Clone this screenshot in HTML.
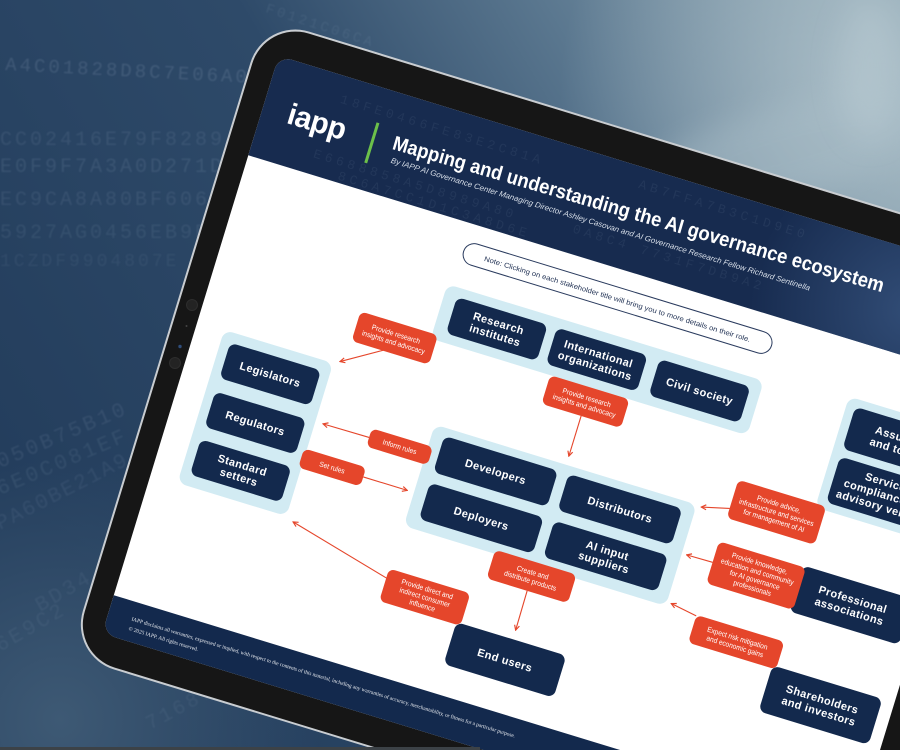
<!DOCTYPE html>
<html><head><meta charset="utf-8"><style>
html,body{margin:0;padding:0;width:900px;height:750px;overflow:hidden;}
svg{display:block;}
.bx{font-family:"Liberation Sans",sans-serif;font-weight:bold;font-size:11px;fill:#fff;text-anchor:middle;letter-spacing:.4px;}
.lb{font-family:"Liberation Sans",sans-serif;font-size:7.4px;fill:#fff;text-anchor:middle;}
.hx{font-family:"Liberation Mono","DejaVu Sans Mono",monospace;fill:#b3c8da;}
</style></head><body>
<svg width="900" height="750" viewBox="0 0 900 750" xmlns="http://www.w3.org/2000/svg">
<defs>
<linearGradient id="bg" x1="0" y1="0.6" x2="1" y2="0.1">
<stop offset="0" stop-color="#243e5d"/>
<stop offset="0.45" stop-color="#2e4a69"/>
<stop offset="0.72" stop-color="#5a778f"/>
<stop offset="1" stop-color="#8ea6b3"/>
</linearGradient>
<radialGradient id="hl" cx="860" cy="90" r="300" gradientUnits="userSpaceOnUse">
<stop offset="0" stop-color="#b4c6ce" stop-opacity=".75"/>
<stop offset="1" stop-color="#b4c6ce" stop-opacity="0"/>
</radialGradient>
<radialGradient id="bl" cx="60" cy="720" r="260" gradientUnits="userSpaceOnUse">
<stop offset="0" stop-color="#44607a" stop-opacity=".8"/>
<stop offset="1" stop-color="#44607a" stop-opacity="0"/>
</radialGradient>
<radialGradient id="hh" cx="910" cy="310" r="160" gradientUnits="userSpaceOnUse">
<stop offset="0" stop-color="#34507a" stop-opacity=".9"/>
<stop offset="1" stop-color="#34507a" stop-opacity="0"/>
</radialGradient>
<filter id="blur" x="-50%" y="-50%" width="200%" height="200%"><feGaussianBlur stdDeviation="14"/></filter>
<filter id="sb" x="-10%" y="-50%" width="120%" height="200%"><feGaussianBlur stdDeviation="0.8"/></filter>
<marker id="ah" viewBox="0 0 8 8" refX="7" refY="4" markerWidth="6" markerHeight="6" orient="auto">
<path d="M1,1 L7,4 L1,7" fill="none" stroke="#e5462b" stroke-width="1.4"/>
</marker>
</defs>

<!-- background -->
<rect width="900" height="750" fill="url(#bg)"/>
<rect width="900" height="750" fill="url(#hl)"/>
<rect width="900" height="750" fill="url(#bl)"/>
<ellipse cx="790" cy="150" rx="160" ry="45" transform="rotate(-15 790 150)" fill="#a9bdc7" opacity=".45" filter="url(#blur)"/>
<ellipse cx="870" cy="70" rx="30" ry="70" fill="#b7c9d1" opacity=".5" filter="url(#blur)"/>

<!-- background hex texture -->
<g class="hx" filter="url(#sb)">
<text x="5" y="70" font-size="19" opacity=".16" letter-spacing="3" transform="rotate(3 5 70)">A4C01828D8C7E06A00</text>
<text x="0" y="145" font-size="20" opacity=".11" letter-spacing="3">CC02416E79F8289A8</text>
<text x="0" y="172" font-size="20" opacity=".12" letter-spacing="3">E0F9F7A3A0D271D20</text>
<text x="0" y="205" font-size="20" opacity=".11" letter-spacing="3">EC9CA8A80BF606CC</text>
<text x="0" y="238" font-size="20" opacity=".1" letter-spacing="3">5927AG0456EB9B9</text>
<text x="0" y="266" font-size="18" opacity=".08" letter-spacing="3">1CZDF9904807E</text>
<text x="0" y="468" font-size="21" opacity=".11" letter-spacing="3" transform="rotate(-23 0 468)">050B75B10</text>
<text x="0" y="495" font-size="21" opacity=".1" letter-spacing="3" transform="rotate(-23 0 495)">6E0C081EF</text>
<text x="0" y="530" font-size="21" opacity=".09" letter-spacing="2" transform="rotate(-27 0 530)">PA60BE21A9</text>
<text x="40" y="612" font-size="21" opacity=".08" letter-spacing="3" transform="rotate(-30 40 612)">BD34</text>
<text x="0" y="652" font-size="21" opacity=".08" letter-spacing="3" transform="rotate(-30 0 652)">6E9C2</text>
<text x="150" y="730" font-size="20" opacity=".08" letter-spacing="3" transform="rotate(-28 150 730)">7168739</text>
<text x="265" y="12" font-size="14" opacity=".1" letter-spacing="3" transform="rotate(18 265 12)">F0121C06CA</text>
</g>

<!-- tablet body (image coordinates, clipped to frame) -->
<path d="M309.1,31.6 L900,212.3 L900,750 L377.4,750 L114.1,669.5 A47,47 0 0 1 82.9,610.8 L250.4,62.8 A47,47 0 0 1 309.1,31.6 Z" fill="#c9cdd1"/>
<path d="M308.5,33.55 L900,214.4 L900,750 L384.2,750 L114.7,667.6 A45,45 0 0 1 84.8,611.4 L252.3,63.4 A45,45 0 0 1 308.5,33.55 Z" fill="#161616"/>
<path d="M292.1,59.9 L900,245.8 L900,684.7 L880,750 L483.4,750 L115.5,637.5 A14,14 0 0 1 106.2,620 L274.6,69.2 A14,14 0 0 1 292.1,59.9 Z" fill="#ffffff"/>
<!-- header -->
<path d="M292.1,59.9 L900,245.8 L900,354.6 L248.3,155.3 L274.6,69.2 A14,14 0 0 1 292.1,59.9 Z" fill="#172b4f"/>
<path d="M292.1,59.9 L900,245.8 L900,354.6 L248.3,155.3 L274.6,69.2 A14,14 0 0 1 292.1,59.9 Z" fill="url(#hh)"/>
<!-- footer -->
<path d="M113.8,595.2 L620.1,750 L483.4,750 L115.5,637.5 A14,14 0 0 1 106.2,620 Z" fill="#13294d"/>

<!-- header content -->
<g transform="matrix(0.9563 0.2924 -0.2924 0.9563 278 65)">
<g class="hx" font-size="13" opacity=".07" letter-spacing="4">
<text x="70" y="18">18FE0466FE83E2C81A</text>
<text x="60" y="78">E6688858A5D8989A80</text>
<text x="90" y="92">8C6A7CC1D1C3A8D6E</text>
<text x="380" y="12">AB7FFA7B3C1D9E0</text>
<text x="330" y="74">0A8C4 7731F7DB9A2</text>
</g>
<text x="24" y="53" font-family="Liberation Sans,sans-serif" font-weight="bold" font-size="30" fill="#fff" letter-spacing="-0.5">iapp</text>
<rect x="111" y="26" width="3" height="42" fill="#6cc04a"/>
<text x="133" y="47" transform="rotate(-0.7 133 47)" font-family="Liberation Sans,sans-serif" font-weight="bold" font-size="20" fill="#fff" textLength="511" lengthAdjust="spacingAndGlyphs">Mapping and understanding the AI governance ecosystem</text>
<text x="136" y="60.5" font-family="Liberation Sans,sans-serif" font-style="italic" font-size="7.8" fill="#d8dfe9" textLength="438" lengthAdjust="spacingAndGlyphs">By IAPP AI Governance Center Managing Director Ashley Casovan and AI Governance Research Fellow Richard Sentinella</text>
</g>

<!-- note pill -->
<g transform="matrix(0.9563 0.2924 -0.2924 0.9563 278 65)">
<rect x="232" y="113" width="322" height="22" rx="11" fill="#fff" stroke="#2a3b5e" stroke-width="1"/>
<text x="393" y="127" font-family="Liberation Sans,sans-serif" font-size="7" fill="#1e2f52" text-anchor="middle" textLength="278" lengthAdjust="spacingAndGlyphs">Note: Clicking on each stakeholder title will bring you to more details on their role.</text>
</g>

<!-- containers -->
<g transform="matrix(0.9563 0.2924 -0.2924 0.9563 278 65)" fill="#d2ebf3">
<rect x="226" y="160" width="331" height="57" rx="9"/>
<rect x="26" y="269" width="114" height="160" rx="9"/>
<rect x="255" y="298" width="274" height="106" rx="9"/>
<rect x="643" y="150" width="140" height="116" rx="9"/>
</g>

<!-- boxes -->
<g transform="matrix(0.9563 0.2924 -0.2924 0.9563 278 65)" fill="#13294d">
<rect x="239" y="169.5" width="95" height="38" rx="7"/>
<rect x="343.5" y="169.5" width="95" height="38" rx="7"/>
<rect x="451" y="169.5" width="95" height="38" rx="7"/>
<rect x="35.5" y="279.5" width="95" height="37" rx="7"/>
<rect x="35.5" y="330.5" width="95" height="37" rx="7"/>
<rect x="35.5" y="380.5" width="95" height="37" rx="7"/>
<rect x="267.5" y="306" width="119" height="38" rx="7"/>
<rect x="397.5" y="306" width="119" height="38" rx="7"/>
<rect x="267.5" y="355" width="119" height="38" rx="7"/>
<rect x="397.5" y="355" width="119" height="38" rx="7"/>
<rect x="652" y="158" width="112" height="44" rx="7"/>
<rect x="652" y="210" width="112" height="48" rx="7"/>
<rect x="648.5" y="325" width="115" height="48" rx="7"/>
</g>
<g transform="matrix(0.9563 0.2924 -0.2924 0.9563 278 65)" class="bx">
<text x="286.5" y="186.2">Research</text><text x="286.5" y="198.7">institutes</text>
<text x="391" y="186.2">International</text><text x="391" y="198.7">organizations</text>
<text x="498.5" y="192.5">Civil society</text>
<text x="83" y="302">Legislators</text>
<text x="83" y="353">Regulators</text>
<text x="83" y="396.8">Standard</text><text x="83" y="409.3">setters</text>
<text x="327" y="329">Developers</text>
<text x="457" y="329">Distributors</text>
<text x="327" y="378">Deployers</text>
<text x="457" y="371.7">AI input</text><text x="457" y="384.2">suppliers</text>
<text x="708" y="177.7">Assurance</text><text x="708" y="190.2">and tooling</text>
<text x="708" y="225">Services,</text><text x="708" y="237.5">compliance and</text><text x="708" y="250">advisory vendors</text>
<text x="706" y="346.7">Professional</text><text x="706" y="359.2">associations</text>
</g>
<g transform="matrix(0.9563 0.2924 -0.2924 0.9563 278 65)">
<rect x="333.5" y="480.5" width="115" height="44" rx="7" fill="#13294d"/>
<text class="bx" x="391" y="506.5">End users</text>
</g>
<g transform="matrix(0.9563 0.2924 -0.2924 0.9563 278 65)">
<rect x="648.5" y="429.5" width="115" height="48" rx="7" fill="#13294d"/>
<text class="bx" x="706" y="451.2">Shareholders</text><text class="bx" x="706" y="463.7">and investors</text>
</g>

<!-- arrows -->
<g transform="matrix(0.9563 0.2924 -0.2924 0.9563 278 65)" stroke="#e5462b" stroke-width="1.1" fill="none" marker-end="url(#ah)">
<line x1="184" y1="242" x2="146" y2="265.5"/>
<line x1="392.5" y1="247" x2="392.5" y2="289"/>
<line x1="196" y1="329.5" x2="148" y2="330"/>
<line x1="202" y1="369" x2="248" y2="369"/>
<line x1="254" y1="459" x2="148" y2="432.5"/>
<line x1="392" y1="430" x2="392.5" y2="471"/>
<line x1="561.5" y1="292" x2="534" y2="299"/>
<line x1="561" y1="348.5" x2="534" y2="349"/>
<line x1="561" y1="404.5" x2="533.5" y2="400"/>
</g>

<!-- labels -->
<g transform="matrix(0.9563 0.2924 -0.2924 0.9563 278 65)" fill="#e5462b">
<rect x="151" y="211.5" width="81" height="31" rx="6"/>
<rect x="351" y="217" width="83" height="30" rx="6"/>
<rect x="196" y="320" width="64" height="19" rx="6"/>
<rect x="137" y="359" width="65" height="20" rx="6"/>
<rect x="253.5" y="449" width="85" height="34" rx="6"/>
<rect x="349.5" y="400" width="85" height="30" rx="6"/>
<rect x="561.5" y="262" width="92" height="40" rx="6"/>
<rect x="561" y="326.5" width="91" height="44" rx="6"/>
<rect x="561" y="403.5" width="92" height="29" rx="6"/>
</g>
<g transform="matrix(0.9563 0.2924 -0.2924 0.9563 278 65)" class="lb">
<g transform="translate(191.5 227) scale(0.9 1)"><text x="0" y="-1.7">Provide research</text><text x="0" y="6.9">insights and advocacy</text></g>
<g transform="translate(392.5 232) scale(0.9 1)"><text x="0" y="-1.7">Provide research</text><text x="0" y="6.9">insights and advocacy</text></g>
<g transform="translate(228 329.5) scale(0.9 1)"><text x="0" y="2.6">Inform rules</text></g>
<g transform="translate(169.5 369) scale(0.9 1)"><text x="0" y="2.6">Set rules</text></g>
<g transform="translate(296 466) scale(0.9 1)"><text x="0" y="-6">Provide direct and</text><text x="0" y="2.6">indirect consumer</text><text x="0" y="11.2">influence</text></g>
<g transform="translate(392 415) scale(0.9 1)"><text x="0" y="-1.7">Create and</text><text x="0" y="6.9">distribute products</text></g>
<g transform="translate(607.5 282) scale(0.9 1)"><text x="0" y="-6">Provide advice,</text><text x="0" y="2.6">infrastructure and services</text><text x="0" y="11.2">for management of AI</text></g>
<g transform="translate(606.5 348.5) scale(0.9 1)"><text x="0" y="-10.3">Provide knowledge,</text><text x="0" y="-1.7">education and community</text><text x="0" y="6.9">for AI governance</text><text x="0" y="15.5">professionals</text></g>
<g transform="translate(607 418) scale(0.9 1)"><text x="0" y="-1.7">Expect risk mitigation</text><text x="0" y="6.9">and economic gains</text></g>
</g>

<!-- footer text -->
<text transform="matrix(0.9563 0.2924 -0.2924 0.9563 278 65)" x="22" y="574" font-family="Liberation Serif,serif" font-size="5.4" fill="#e8ebf0">IAPP disclaims all warranties, expressed or implied, with respect to the contents of this material, including any warranties of accuracy, merchantability, or fitness for a particular purpose.</text>
<text transform="matrix(0.9563 0.2924 -0.2924 0.9563 278 65)" x="22" y="584" font-family="Liberation Serif,serif" font-size="5.4" fill="#e8ebf0">© 2025 IAPP. All rights reserved.</text>

<!-- camera / sensors on bezel -->
<circle cx="192" cy="305" r="5.5" fill="#232323" stroke="#2d2d2d"/>
<circle cx="186.5" cy="326" r="1" fill="#444"/>
<circle cx="180" cy="346.5" r="1.7" fill="#2f4d7a"/>
<circle cx="175" cy="363" r="5.5" fill="#232323" stroke="#2d2d2d"/>
<rect x="0" y="747" width="480" height="3" fill="#3c4247"/>
</svg>
</body></html>
